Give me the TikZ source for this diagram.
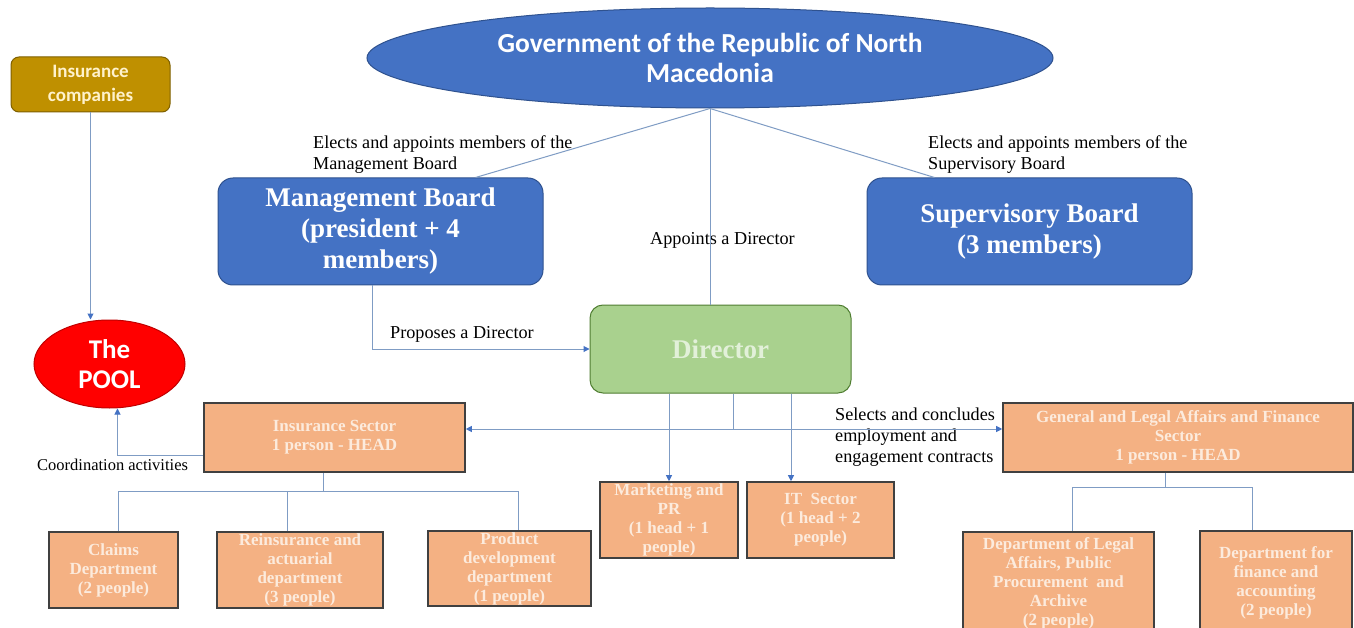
\documentclass[tikz,border=0pt]{standalone}
\usepackage{fontspec}
\setmainfont{Liberation Serif}
\newfontfamily\calfont{Carlito}
\usetikzlibrary{shapes.geometric,arrows.meta,calc}
\definecolor{blu}{HTML}{4472C4}
\definecolor{bluborder}{HTML}{2F528F}
\definecolor{grn}{HTML}{A9D18E}
\definecolor{grnborder}{HTML}{507E32}
\definecolor{grntext}{HTML}{E2F0D9}
\definecolor{gold}{HTML}{BF9000}
\definecolor{goldborder}{HTML}{7F6000}
\definecolor{goldtext}{HTML}{FFF2CC}
\definecolor{poolred}{HTML}{FF0000}
\definecolor{poolborder}{HTML}{C00000}
\definecolor{orng}{HTML}{F4B183}
\definecolor{orngborder}{HTML}{404040}
\definecolor{orngtext}{HTML}{FCEBDD}
\definecolor{lncol}{HTML}{7F9CC4}
\begin{document}
\begin{tikzpicture}[x=1pt,y=-1pt,
  ln/.style={draw=lncol,line width=1pt},
  arr/.style={ln,-{Triangle[width=6pt,length=6pt,color=blu]}},
  bluebox/.style={draw=bluborder,line width=1pt,fill=blu,rounded corners=15pt,text=white,align=center,inner sep=0pt,font=\fontsize{27}{31}\selectfont\bfseries},
  orbox/.style={draw=orngborder,line width=1.6pt,fill=orng,text=orngtext,align=center,inner sep=0pt,font=\fontsize{17}{19}\selectfont\bfseries},
  lbl/.style={anchor=west,align=left,inner sep=0pt,text=black,font=\fontsize{18.2}{21}\selectfont}
]
\useasboundingbox (0,0) rectangle (1354,628);
\clip (0,0) rectangle (1354,628);
\fill[white] (0,0) rectangle (1354,628);

% nodes
\node[ellipse,draw=bluborder,line width=1pt,fill=blu,minimum width=686pt,minimum height=100pt,inner sep=0pt,text=white,align=center,font=\calfont\fontsize{27.5}{30}\selectfont\bfseries] (gov) at (710,58) {Government of the Republic of North\\Macedonia};

\node[draw=goldborder,line width=1pt,fill=gold,rounded corners=8pt,minimum width=159pt,minimum height=55pt,inner sep=0pt,text=goldtext,align=center,font=\calfont\fontsize{19}{24}\selectfont\bfseries] (ic) at (90.5,84.5) {Insurance\\companies};

\node[ellipse,draw=poolborder,line width=1pt,fill=poolred,minimum width=151pt,minimum height=88pt,inner sep=0pt,text=white,align=center,font=\calfont\fontsize{27}{30}\selectfont\bfseries] (pool) at (109.5,364) {The\\POOL};

\node[bluebox,minimum width=325pt,minimum height=107pt] (mb) at (380.5,231.5) {Management Board\\(president + 4\\members)};
\node[bluebox,minimum width=325pt,minimum height=107pt] (sb) at (1029.5,231.5) {Supervisory Board\\(3 members)};

\node[draw=grnborder,line width=1pt,fill=grn,rounded corners=13pt,minimum width=261pt,minimum height=88pt,inner sep=0pt,text=grntext,font=\fontsize{27}{31}\selectfont\bfseries] (dir) at (720.5,349) {Director};

\node[orbox,minimum width=261pt,minimum height=69pt] (ins) at (334.5,437.5) {\fontsize{17}{20}\selectfont Insurance Sector\\1 person - HEAD};
\node[orbox,minimum width=350pt,minimum height=69pt] (gen) at (1178,437.5) {\fontsize{17}{20.5}\selectfont General and Legal Affairs and Finance\\Sector\\1 person - HEAD};

\node[orbox,minimum width=138pt,minimum height=76pt] (mkt) at (669,520) {Marketing and\\PR\\(1 head + 1\\people)};
\node[orbox,minimum width=147pt,minimum height=76pt] (it) at (820.5,520) {IT\ \ Sector\\(1 head + 2\\people)};

\node[orbox,minimum width=129pt,minimum height=76pt] (claims) at (113.5,570) {Claims\\Department\\(2 people)};
\node[orbox,minimum width=166pt,minimum height=76pt] (reins) at (300,570) {Reinsurance and\\actuarial\\department\\(3 people)};
\node[orbox,minimum width=163pt,minimum height=75pt] (prod) at (509.5,568.5) {Product\\development\\department\\(1 people)};

\node[orbox,minimum width=191pt,minimum height=102pt] (legal) at (1058.5,583) {\fontsize{17}{18.5}\selectfont Department of Legal\\Affairs, Public\\Procurement\ \ and\\Archive\\(2 people)};
\node[orbox,minimum width=152pt,minimum height=103pt] (fin) at (1276,582.5) {Department for\\finance and\\accounting\\(2 people)};

% labels
\node[lbl] (lmb) at (313,154.5) {Elects and appoints members of the\\Management Board};
\node[lbl] (lsb) at (928,154.5) {Elects and appoints members of the\\Supervisory Board};
\node[lbl] (lapp) at (650,240) {Appoints a Director};
\node[lbl] (lprop) at (390,334) {Proposes a Director};
\node[lbl] (lsel) at (835,437) {Selects and concludes\\employment and\\engagement contracts};
\node[lbl,font=\fontsize{16.5}{20}\selectfont] (lcoord) at (37,465) {Coordination activities};

% connectors from government
\draw[ln] (gov.south) -- ([xshift=-68pt]mb.north east);
\draw[ln] (gov.south) -- ([xshift=68pt]sb.north west);
\draw[ln] (gov.south) -- (gov.south |- dir.north);

% MB proposes
\draw[arr] ([xshift=-8.5pt]mb.south) |- (dir.west);

% insurance companies to pool
\draw[arr] (ic.south) -- (ic.south |- pool.north);
% coordination
\draw[arr] ([yshift=-17.5pt]ins.west) -| ([xshift=8pt]pool.south);

% director hub
\coordinate (hub) at (733,429);
\draw[ln] ([xshift=12.5pt]dir.south) -- (hub);
\draw[arr] (hub) -- (hub -| ins.east);
\draw[arr] (hub) -- (hub -| gen.west);
\draw[arr] (mkt.north |- dir.south) -- (mkt.north);
\draw[arr] ([xshift=-29.5pt]it.north |- dir.south) -- ([xshift=-29.5pt]it.north);

% insurance sector tree
\coordinate (ib) at (323,491);
\draw[ln] ([xshift=-11.5pt]ins.south) -- (ib);
\draw[ln] ([xshift=4.5pt]claims.north) |- ([xshift=8.5pt]prod.north |- ib) -- ([xshift=8.5pt]prod.north);
\draw[ln] ([xshift=-13pt]reins.north) -- ([xshift=-13pt]reins.north |- ib);

% general sector tree
\coordinate (gb) at (1165,487);
\draw[ln] ([xshift=-13pt]gen.south) -- (gb);
\draw[ln] ([xshift=13.5pt]legal.north) |- ([xshift=-24pt]fin.north |- gb) -- ([xshift=-24pt]fin.north);
\end{tikzpicture}
\end{document}
